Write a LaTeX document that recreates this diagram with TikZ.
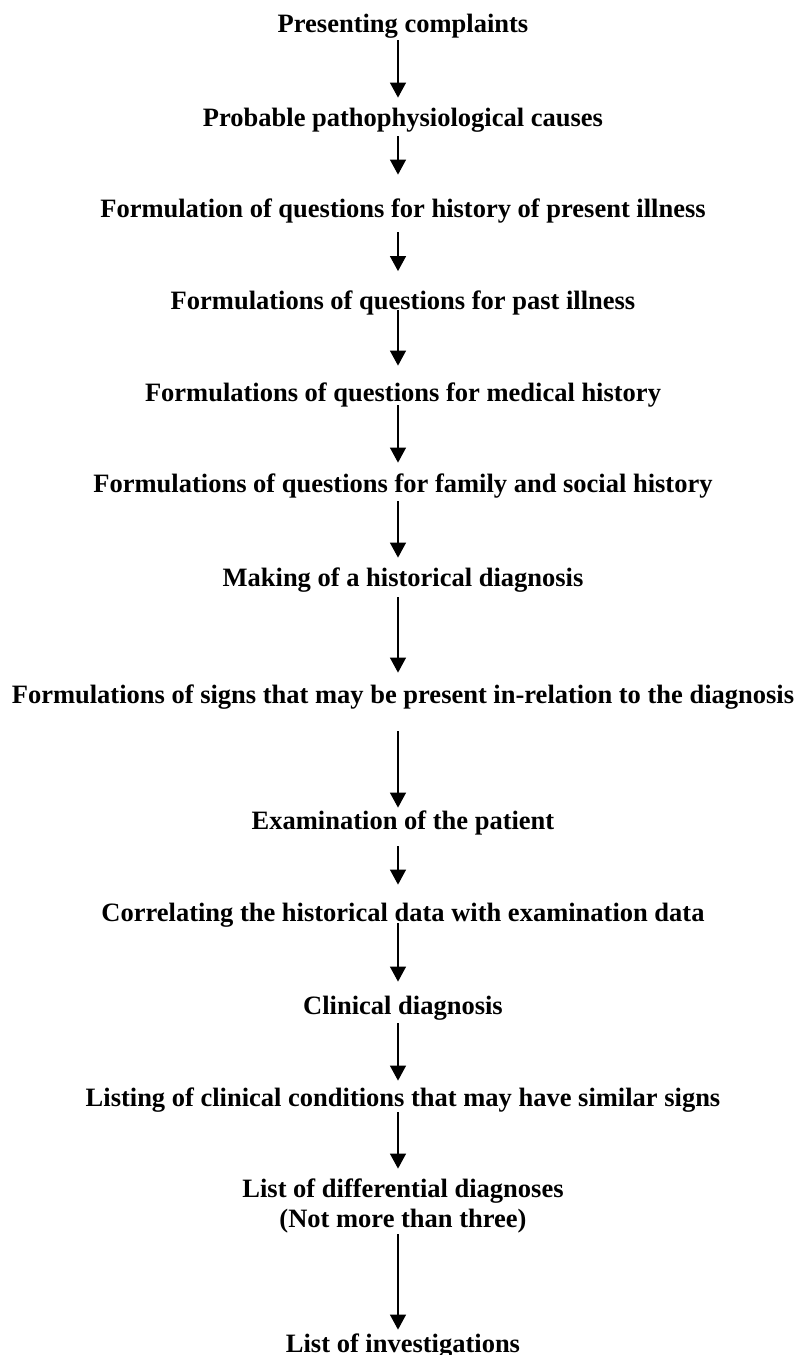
\documentclass[tikz,border=0pt]{standalone}
\usepackage{fontspec}
\setmainfont{Liberation Serif}
\usetikzlibrary{arrows.meta}
\tikzset{
  stage/.style={anchor=base, inner sep=0pt, text height=8.75pt, text depth=0pt,
    font=\fontsize{13.25}{15}\selectfont\bfseries},
  flow/.style={-{Triangle[width=8pt,length=7.5pt]}, line width=0.6pt},
}

\begin{document}
\begin{tikzpicture}[x=0.5pt,y=-0.5pt]
\useasboundingbox (0,0) rectangle (803,1355);
\coordinate (axis) at (398,0);
% stages, top to bottom
\node[stage] (complaints) at (403,32) {Presenting complaints};
\node[stage] (causes) at (403,126) {Probable pathophysiological causes};
\node[stage] (presentq) at (403,217) {Formulation of questions for history of present illness};
\node[stage] (pastq) at (403,309) {Formulations of questions for past illness};
\node[stage] (medq) at (403,401) {Formulations of questions for medical history};
\node[stage] (familyq) at (403,492) {Formulations of questions for family and social history};
\node[stage] (histdiag) at (403,586) {Making of a historical diagnosis};
\node[stage] (signs) at (403,703) {Formulations of signs that may be present in-relation to the diagnosis};
\node[stage] (exam) at (403,829) {Examination of the patient};
\node[stage] (correl) at (403,921) {Correlating the historical data with examination data};
\node[stage] (clindiag) at (403,1014) {Clinical diagnosis};
\node[stage] (similar) at (403,1106) {Listing of clinical conditions that may have similar signs};
\node[stage, align=center, text height=23.75pt] (diffdiag) at (403,1227) {List of differential diagnoses\\(Not more than three)};
\node[stage] (invest) at (403,1352) {List of investigations};
% arrows
\draw[flow, shorten <=4pt, shorten >=5.25pt] (complaints.south -| axis) -- (causes.north -| axis);
\draw[flow, shorten <=5pt, shorten >=12.25pt] (causes.south -| axis) -- (presentq.north -| axis);
\draw[flow, shorten <=7.5pt, shorten >=10pt] (presentq.south -| axis) -- (pastq.north -| axis);
\draw[flow, shorten <=0.5pt, shorten >=8.75pt] (pastq.south -| axis) -- (medq.north -| axis);
\draw[flow, shorten <=2pt, shorten >=5.75pt] (medq.south -| axis) -- (familyq.north -| axis);
\draw[flow, shorten <=4.5pt, shorten >=5.25pt] (familyq.south -| axis) -- (histdiag.north -| axis);
\draw[flow, shorten <=5.5pt, shorten >=6.25pt] (histdiag.south -| axis) -- (signs.north -| axis);
\draw[flow, shorten <=14pt, shorten >=1.75pt] (signs.south -| axis) -- (exam.north -| axis);
\draw[flow, shorten <=8.5pt, shorten >=9.25pt] (exam.south -| axis) -- (correl.north -| axis);
\draw[flow, shorten <=1pt, shorten >=7.25pt] (correl.south -| axis) -- (clindiag.north -| axis);
\draw[flow, shorten <=4.5pt, shorten >=3.75pt] (clindiag.south -| axis) -- (similar.north -| axis);
\draw[flow, shorten <=3pt, shorten >=5.25pt] (similar.south -| axis) -- (diffdiag.north -| axis);
\draw[flow, shorten <=3.5pt, shorten >=2.25pt] (diffdiag.south -| axis) -- (invest.north -| axis);
\end{tikzpicture}
\end{document}
